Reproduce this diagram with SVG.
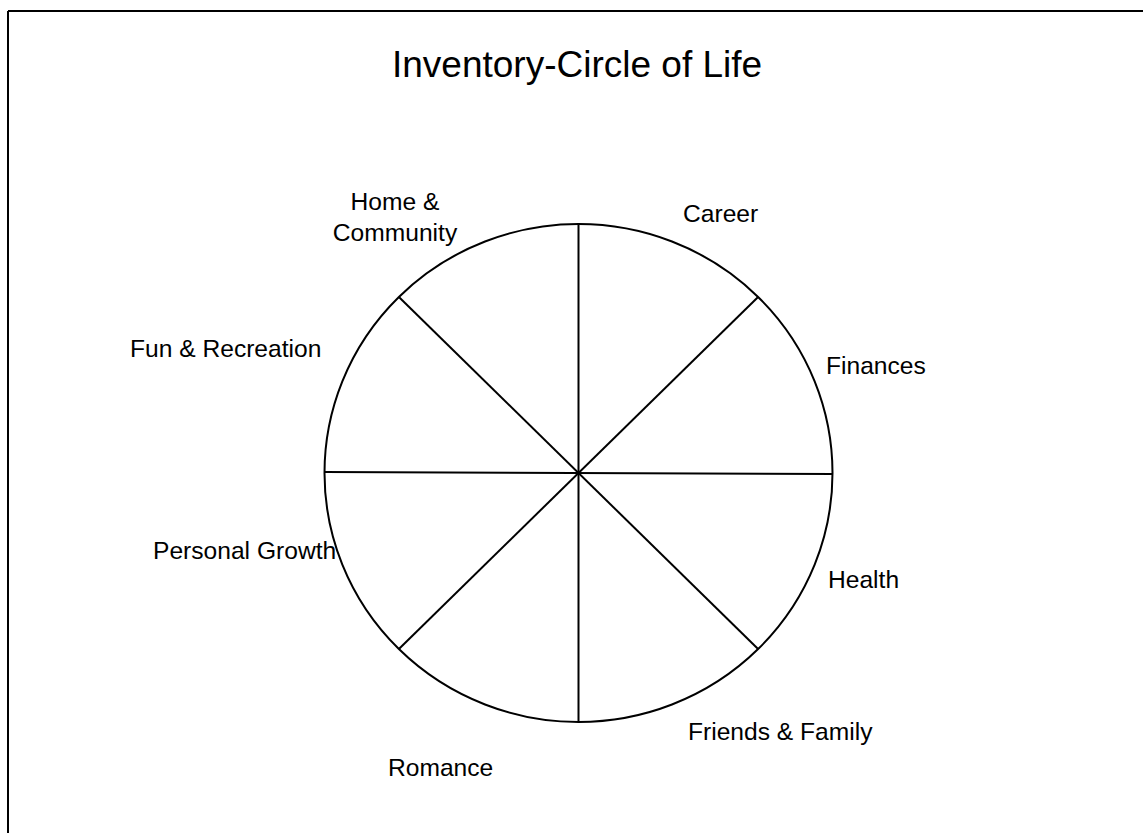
<svg xmlns="http://www.w3.org/2000/svg" width="1143" height="833" viewBox="0 0 1143 833">
<style>
.t{font-family:"Liberation Sans",Arial,sans-serif;fill:#000}
.l{font-size:24.6px}
.ln{stroke:#000;stroke-width:2;fill:none}
</style>
<rect width="1143" height="833" fill="#fff"/>
<g id="frame">
<line class="ln" x1="8" y1="11" x2="1143" y2="11"/>
<line class="ln" x1="8" y1="11" x2="8" y2="833"/>
</g>
<text id="title" class="t" x="392" y="77" font-size="37">Inventory-Circle of Life</text>
<g id="wheel">
<ellipse class="ln" cx="578.5" cy="473" rx="254" ry="249"/>
</g>
<g id="connectors">
<line class="ln" x1="578.5" y1="224" x2="578.5" y2="722"/>
<line class="ln" x1="324.5" y1="472" x2="832.5" y2="474"/>
<line class="ln" x1="398.9" y1="297" x2="758.1" y2="649"/>
<line class="ln" x1="758.1" y1="297" x2="398.9" y2="649"/>
</g>
<g id="home"><text class="t l" text-anchor="middle" x="395" y="210">Home &amp;</text><text class="t l" text-anchor="middle" x="395" y="241">Community</text></g>
<g id="career"><text class="t l" x="683" y="222">Career</text></g>
<g id="finances"><text class="t l" x="826" y="374">Finances</text></g>
<g id="fun"><text class="t l" x="130" y="357">Fun &amp; Recreation</text></g>
<g id="growth"><text class="t l" x="153" y="559">Personal Growth</text></g>
<g id="health"><text class="t l" x="828" y="588">Health</text></g>
<g id="friends"><text class="t l" x="688" y="740">Friends &amp; Family</text></g>
<g id="romance"><text class="t l" x="388" y="776">Romance</text></g>
</svg>
